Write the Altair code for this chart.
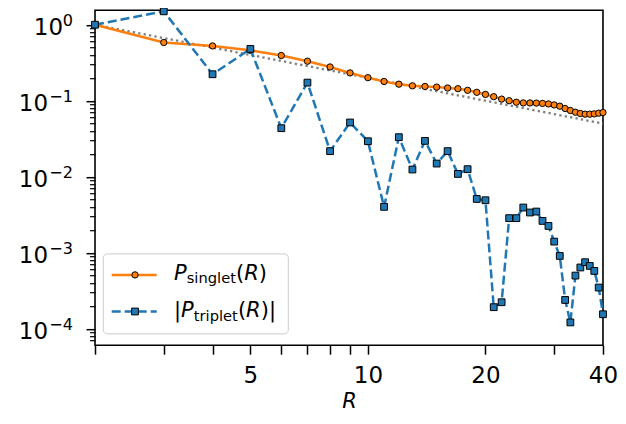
import altair as alt
import pandas as pd

# ---------------- data ----------------
R = list(range(2, 41))
p_singlet = [1.0, 0.583, 0.526, 0.46, 0.393, 0.331, 0.278, 0.232, 0.201, 0.179,
             0.165, 0.157, 0.154, 0.151, 0.147, 0.144, 0.137, 0.129, 0.121, 0.113,
             0.105, 0.100, 0.0955, 0.0936, 0.0934, 0.0931, 0.0922, 0.0907, 0.0880, 0.0847,
             0.0789, 0.0743, 0.0706, 0.0679, 0.0665, 0.0665, 0.0671, 0.0685, 0.0700]
p_triplet = [1.0, 1.5, 0.223, 0.48, 0.0435, 0.173, 0.0217, 0.0517, 0.0293, 0.00401,
             0.0331, 0.01244, 0.0296, 0.0149, 0.0217, 0.01088, 0.01256, 0.0051, 0.0049, 1.92e-4,
             2.23e-4, 2.85e-3, 2.85e-3, 3.93e-3, 3.38e-3, 3.48e-3, 2.62e-3, 2.25e-3, 1.40e-3, 9.07e-4,
             2.39e-4, 1.21e-4, 5.0e-4, 6.39e-4, 7.5e-4, 6.7e-4, 5.76e-4, 3.48e-4, 1.55e-4]
ref_R = [2, 40]
ref_val = [1.0, 0.05]

x_major = [5, 10, 20, 40]
x_minor = [2, 3, 4, 6, 7, 8, 9, 30]
y_major = [1, 0.1, 0.01, 0.001, 0.0001]
y_exponents = ["0", "−1", "−2", "−3", "−4"]
x_domain = [2, 40]
y_domain = [6.07e-5, 1.552]
y_minor = [m * 10.0 ** d for d in range(-5, 1) for m in range(2, 10)
           if y_domain[0] <= m * 10.0 ** d <= y_domain[1]]

ORANGE = "#ff7f0e"
BLUE = "#1f77b4"
FONT = "DejaVu Sans"
FS = 21       # legend / title
TFS = 23      # tick labels
SUB = 14.7
TSUB = 16.1
LW = 2.5
DASH = [9, 4]

df = pd.DataFrame({"R": R, "singlet": p_singlet, "triplet": p_triplet})
ref = pd.DataFrame({"R": ref_R, "v": ref_val})
ylab = pd.DataFrame({"val": y_major, "exp": y_exponents})

xs = alt.Scale(type="log", domain=x_domain, nice=False, zero=False)
ys = alt.Scale(type="log", domain=y_domain, nice=False, zero=False)

x_major_axis = alt.Axis(values=x_major, format="d", orient="bottom", title="R",
                        tickSize=9, tickWidth=1.5, labelPadding=10, domain=False, grid=False,
                        labelFlush=False, labelOverlap=False, labelFontSize=TFS,
                        titleFontStyle="italic", titleFontWeight="normal",
                        titleFontSize=FS, titleFont=FONT, titlePadding=3)
x_minor_axis = alt.Axis(values=x_minor, orient="bottom", labels=False, title=None,
                        tickSize=9, tickWidth=1.5, domain=False, grid=False)
y_major_axis = alt.Axis(values=y_major, orient="left", title=None, labels=False,
                        tickSize=9, tickWidth=1.5, domain=False, grid=False, minExtent=87)
y_minor_axis = alt.Axis(values=y_minor, orient="left", labels=False, title=None,
                        tickSize=5.5, tickWidth=1.2, domain=False, grid=False)

dotted = alt.Chart(ref).mark_line(color="#7f7f7f", strokeDash=[2.3, 3.2], strokeWidth=2.3).encode(
    x=alt.X("R:Q", scale=xs, axis=x_minor_axis),
    y=alt.Y("v:Q", scale=ys, axis=y_minor_axis),
)
orange_line = alt.Chart(df).mark_line(color=ORANGE, strokeWidth=LW).encode(
    x=alt.X("R:Q", scale=xs, axis=x_major_axis),
    y=alt.Y("singlet:Q", scale=ys, axis=y_major_axis),
)
orange_pts = alt.Chart(df).mark_point(shape="circle", filled=True, fill=ORANGE, stroke="black",
                                      strokeWidth=1, size=40, opacity=1).encode(
    x=alt.X("R:Q", scale=xs, axis=None),
    y=alt.Y("singlet:Q", scale=ys, axis=None),
)
blue_line = alt.Chart(df).mark_line(color=BLUE, strokeWidth=LW, strokeDash=DASH).encode(
    x=alt.X("R:Q", scale=xs, axis=None),
    y=alt.Y("triplet:Q", scale=ys, axis=None),
)
blue_pts = alt.Chart(df).mark_point(shape="square", filled=True, fill=BLUE, stroke="black",
                                    strokeWidth=1, size=46, opacity=1).encode(
    x=alt.X("R:Q", scale=xs, axis=None),
    y=alt.Y("triplet:Q", scale=ys, axis=None),
)

# y tick labels 10^n drawn as base + superscript text
ylab_sup = alt.Chart(ylab).mark_text(align="right", baseline="alphabetic", font=FONT,
                                     fontSize=TSUB, dy=1, color="black").encode(
    x=alt.value(-22),
    y=alt.Y("val:Q", scale=ys, axis=None),
    text="exp:N",
)
ylab_base = alt.Chart(ylab).transform_calculate(
    xp="datum.exp == '0' ? -32 : -47"
).mark_text(text="10", align="right", baseline="alphabetic", font=FONT,
            fontSize=TFS, dy=9.9, color="black").encode(
    x=alt.X("xp:Q", scale=None),
    y=alt.Y("val:Q", scale=ys, axis=None),
)


def one():
    return alt.Chart(alt.Data(values=[{}]))


def txt(s, x, y, size=FS, style="normal"):
    return one().mark_text(text=s, align="left", baseline="alphabetic", font=FONT,
                           fontSize=size, fontStyle=style, color="black").encode(
        x=alt.value(x), y=alt.value(y))


legend_box = one().mark_rect(fill="white", fillOpacity=0.8, stroke="#cccccc", strokeWidth=1,
                             cornerRadius=4).encode(
    x=alt.value(8.3), x2=alt.value(193.3), y=alt.value(243.7), y2=alt.value(323.7))
leg_l1 = one().mark_rule(color=ORANGE, strokeWidth=LW).encode(
    x=alt.value(16.7), x2=alt.value(61.7), y=alt.value(264.7))
leg_p1 = one().mark_point(shape="circle", filled=True, fill=ORANGE, stroke="black",
                          strokeWidth=1, size=40, opacity=1).encode(x=alt.value(40), y=alt.value(264.7))
leg_l2 = one().mark_rule(color=BLUE, strokeWidth=LW, strokeDash=DASH).encode(
    x=alt.value(16.7), x2=alt.value(61.7), y=alt.value(301.3))
leg_p2 = one().mark_point(shape="square", filled=True, fill=BLUE, stroke="black",
                          strokeWidth=1, size=46, opacity=1).encode(x=alt.value(40), y=alt.value(301.3))

b1, b2 = 269.7, 307.0
sd = 3.5
legend_text = [
    txt("P", 79, b1, style="italic"),
    txt("singlet", 91.7, b1 + sd, size=SUB),
    txt("(", 141, b1),
    txt("R", 149.2, b1, style="italic"),
    txt(")", 163.8, b1),
    txt("|", 79, b2),
    txt("P", 86.1, b2, style="italic"),
    txt("triplet", 98.8, b2 + sd, size=SUB),
    txt("(", 142.9, b2),
    txt("R", 151.1, b2, style="italic"),
    txt(")", 165.7, b2),
    txt("|", 173.9, b2),
]

chart = alt.layer(
    dotted, orange_line, orange_pts, blue_line, blue_pts, ylab_sup, ylab_base,
    legend_box, leg_l1, leg_p1, leg_l2, leg_p2, *legend_text
).resolve_scale(x="independent", y="independent").properties(
    width=508, height=335,
    padding={"left": 0, "top": -2.8, "right": 0, "bottom": 5},
).configure_view(
    stroke="black", strokeWidth=1.6
).configure_axis(
    labelFont=FONT, labelFontSize=TFS, labelColor="black", tickColor="black",
    titleColor="black"
)

chart.save("out.html", embed_options={"renderer": "svg", "actions": False})
